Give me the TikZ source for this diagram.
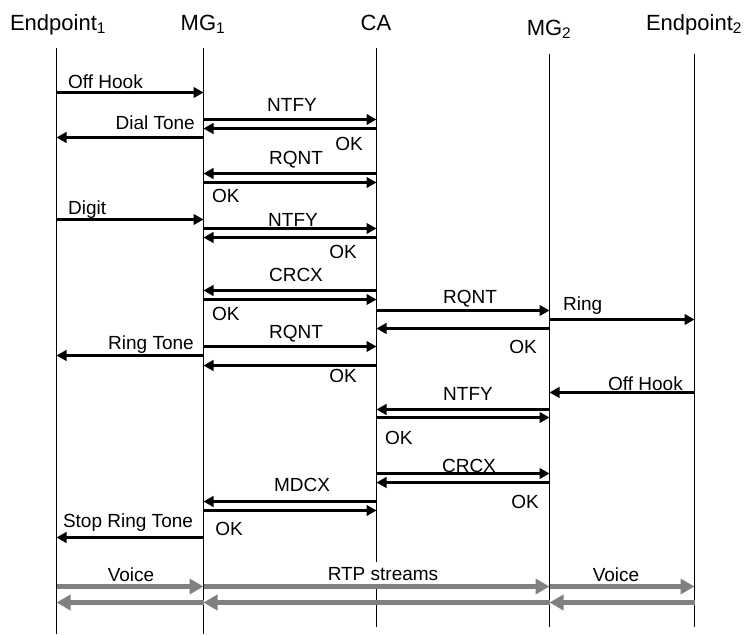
\documentclass[tikz,border=0pt]{standalone}
\usepackage{fontspec}
\setmainfont{Liberation Sans}
\usetikzlibrary{arrows.meta}
\definecolor{rtpgray}{RGB}{128,128,128}
\newcommand\seqmsg[3]{\draw[msg] (#1 |- 0,#3) -- (#2 |- 0,#3);}
\newcommand\seqrtp[3]{\draw[rtp] (#1 |- 0,#3) -- (#2 |- 0,#3);}
\begin{document}
\begin{tikzpicture}[x=1pt,y=-1pt,
  life/.style={line width=1.3pt},
  msg/.style={line width=3pt,-{Triangle[length=10pt,width=10.5pt]}},
  rtp/.style={line width=5.2pt,draw=rtpgray,-{Triangle[length=14pt,width=15pt]}},
  lbl/.style={font=\fontsize{19}{22}\selectfont,inner sep=0pt},
  hdr/.style={font=\fontsize{22}{26}\selectfont,inner sep=0pt,anchor=base}]
\useasboundingbox (0,0) rectangle (748,635);
% headers
\node[hdr] (hE1) at (58,30) {Endpoint\textsubscript{1}};
\node[hdr] (hM1) at (203,30) {MG\textsubscript{1}};
\node[hdr] (hCA) at (376,30) {CA};
\node[hdr] (hM2) at (549,35) {MG\textsubscript{2}};
\node[hdr] (hE2) at (694,30) {Endpoint\textsubscript{2}};
% lifelines
\coordinate (E1) at (56.5,48);  \coordinate (E1b) at (56.5,634);
\coordinate (M1) at (203.5,48); \coordinate (M1b) at (203.5,634);
\coordinate (CA) at (376.5,48); \coordinate (CAb) at (376.5,627);
\coordinate (M2) at (549.5,54); \coordinate (M2b) at (549.5,627);
\coordinate (E2) at (694.5,54); \coordinate (E2b) at (694.5,627);
\foreach \a in {E1,M1,CA,M2,E2} \draw[life] (\a) -- (\a b);
% messages
\seqmsg{E1}{M1}{92.5} \node[lbl,anchor=base west] (l1) at (68,88.5) {Off Hook};
\seqmsg{M1}{CA}{119.5}\node[lbl,anchor=base] (l2) at (292,111) {NTFY};
\seqmsg{CA}{M1}{128.5}\node[lbl,anchor=base] (l3) at (349,150) {OK};
\seqmsg{M1}{E1}{137.5}\node[lbl,anchor=base east] (l4) at (195,129) {Dial Tone};
\seqmsg{CA}{M1}{173.5}\node[lbl,anchor=base] (l5) at (296,164) {RQNT};
\seqmsg{M1}{CA}{182.5}\node[lbl,anchor=base west] (l6) at (212,202) {OK};
\seqmsg{E1}{M1}{219.5}\node[lbl,anchor=base west] (l7) at (68,214) {Digit};
\seqmsg{M1}{CA}{228.5}\node[lbl,anchor=base] (l8) at (293,226) {NTFY};
\seqmsg{CA}{M1}{237.5}\node[lbl,anchor=base] (l9) at (343,258.5) {OK};
\seqmsg{CA}{M1}{290.5}\node[lbl,anchor=base] (l10) at (296,281) {CRCX};
\seqmsg{M1}{CA}{299.5}\node[lbl,anchor=base west] (l11) at (212,320.5) {OK};
\seqmsg{CA}{M2}{310.5}\node[lbl,anchor=base] (l12) at (470,303.5) {RQNT};
\seqmsg{M2}{E2}{319.5}\node[lbl,anchor=base west] (l13) at (563,310.5) {Ring};
\seqmsg{M2}{CA}{328.5}\node[lbl,anchor=base] (l14) at (523,353) {OK};
\seqmsg{M1}{CA}{346.5}\node[lbl,anchor=base] (l15) at (296,338.5) {RQNT};
\seqmsg{M1}{E1}{355.5}\node[lbl,anchor=base east] (l16) at (194,349) {Ring Tone};
\seqmsg{CA}{M1}{365.5}\node[lbl,anchor=base] (l17) at (343,382.5) {OK};
\seqmsg{E2}{M2}{392.5}\node[lbl,anchor=base east] (l18) at (683,390) {Off Hook};
\seqmsg{M2}{CA}{409.5}\node[lbl,anchor=base] (l19) at (468,400) {NTFY};
\seqmsg{CA}{M2}{417.5}\node[lbl,anchor=base west] (l20) at (385,444.5) {OK};
\seqmsg{CA}{M2}{473.5}\node[lbl,anchor=base] (l21) at (469,472.5) {CRCX};
\seqmsg{M2}{CA}{482.5}\node[lbl,anchor=base] (l22) at (525,508.5) {OK};
\seqmsg{CA}{M1}{501.5}\node[lbl,anchor=base] (l23) at (302,491) {MDCX};
\seqmsg{M1}{CA}{510.5}\node[lbl,anchor=base] (l24) at (229,535) {OK};
\seqmsg{M1}{E1}{537.5}\node[lbl,anchor=base] (l25) at (128,527) {Stop Ring Tone};
% RTP streams
\node[lbl,anchor=base,fill=white,inner ysep=5pt,inner xsep=3pt] (l27) at (383,580) {RTP streams};
\node[lbl,anchor=base] (l26) at (131,581) {Voice};
\node[lbl,anchor=base] (l28) at (616,581) {Voice};
\seqrtp{E1}{M1}{586.5}
\seqrtp{M1}{M2}{586.5}
\seqrtp{M2}{E2}{586.5}
\seqrtp{M1}{E1}{602.5}
\seqrtp{M2}{M1}{602.5}
\seqrtp{E2}{M2}{602.5}
\end{tikzpicture}
\end{document}
